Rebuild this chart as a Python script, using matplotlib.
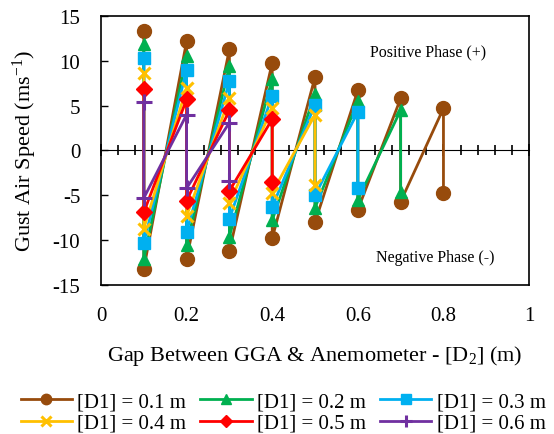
import matplotlib
matplotlib.use("Agg")
import matplotlib.pyplot as plt
from matplotlib.ticker import MultipleLocator, NullFormatter

plt.rcParams["font.family"] = ["Liberation Serif", "DejaVu Serif"]
plt.rcParams["mathtext.fontset"] = "custom"
plt.rcParams["mathtext.rm"] = "Liberation Serif"
plt.rcParams["mathtext.it"] = "Liberation Serif:italic"

# gap D2 positions (m)
gaps = [0.1, 0.2, 0.3, 0.4, 0.5, 0.6, 0.7, 0.8]

# positive / negative phase peaks per D1 (ms-1)
pos_d1_01 = [13.3, 12.2, 11.3, 9.8, 8.2, 6.7, 5.8, 4.7]
neg_d1_01 = [-13.2, -12.1, -11.2, -9.8, -8.0, -6.6, -5.7, -4.7]
pos_d1_02 = [11.9, 10.5, 9.4, 8.0, 6.3, 5.5, 4.5]
neg_d1_02 = [-12.1, -10.5, -9.6, -7.8, -6.4, -5.5, -4.6]
pos_d1_03 = [10.3, 9.0, 7.7, 6.1, 5.1, 4.3]
neg_d1_03 = [-10.3, -9.05, -7.6, -6.3, -5.0, -4.2]
pos_d1_04 = [8.6, 7.0, 5.8, 4.7, 4.0]
neg_d1_04 = [-8.7, -7.3, -5.85, -4.7, -3.85]
pos_d1_05 = [6.9, 5.7, 4.5, 3.5]
neg_d1_05 = [-6.9, -5.6, -4.5, -3.5]
pos_d1_06 = [5.4, 4.0, 3.1]
neg_d1_06 = [-5.3, -4.2, -3.4]

labels = ["[D1] = 0.1 m", "[D1] = 0.2 m", "[D1] = 0.3 m",
          "[D1] = 0.4 m", "[D1] = 0.5 m", "[D1] = 0.6 m"]
colors = ["#974B0C", "#00B050", "#00B0F0", "#FFC000", "#FF0000", "#7030A0"]
markers = ["o", "^", "s", "x", "D", "+"]
msizes = [10, 9, 9, 9, 8, 12]

series = [(pos_d1_01, neg_d1_01), (pos_d1_02, neg_d1_02), (pos_d1_03, neg_d1_03),
          (pos_d1_04, neg_d1_04), (pos_d1_05, neg_d1_05), (pos_d1_06, neg_d1_06)]

fig = plt.figure(figsize=(5.54, 4.35), dpi=100)
ax = fig.add_axes([0.1823, 0.3425, 0.7727, 0.6185])

handles = []
for i, (pos, neg) in enumerate(series):
    xs, ys = [], []
    for x, p, n in zip(gaps, pos, neg):
        xs += [x, x]
        ys += [p, n]
    mew = 2.2 if markers[i] in ("x", "+") else 1
    h, = ax.plot(xs, ys, color=colors[i], lw=2.0, marker=markers[i],
                 ms=msizes[i], mew=mew, label=labels[i], zorder=3 + i)
    handles.append(h)

ax.set_xlim(0, 1)
ax.set_ylim(-15, 15)
ax.set_xticks([0, 0.2, 0.4, 0.6, 0.8, 1.0])
ax.set_xticklabels(["0", "0.2", "0.4", "0.6", "0.8", "1"])
ax.set_yticks([-15, -10, -5, 0, 5, 10, 15])
ax.set_yticklabels(["-15", "-10", "-5", "0", "5", "10", "15"])
ax.tick_params(axis="y", direction="in", length=5, width=1, labelsize=15, pad=15)
ax.tick_params(axis="x", length=0, labelsize=15, pad=15)
for s in ax.spines.values():
    s.set_linewidth(1.2)

# horizontal axis line crossing at zero
zero_ax = ax.secondary_xaxis(0.5)
zero_ax.xaxis.set_major_locator(MultipleLocator(0.2))
zero_ax.xaxis.set_minor_locator(MultipleLocator(0.04))
zero_ax.xaxis.set_major_formatter(NullFormatter())
zero_ax.tick_params(which="major", direction="inout", length=9, width=1.2,
                    labelbottom=False, labeltop=False)
zero_ax.tick_params(which="minor", direction="inout", length=6.5, width=1.2)
zero_ax.spines["bottom"].set_linewidth(1.5)

ax.text(0.765, 11.1, "Positive Phase (+)", ha="center", va="center", fontsize=11.5)
ax.text(0.78, -11.9, "Negative Phase (-)", ha="center", va="center", fontsize=11.5)

ax.set_ylabel("Gust Air Speed (ms$^{-1}$)", fontsize=16, labelpad=10)
ax.set_xlabel("Gap Between GGA & Anemometer - [D$_2$] (m)", fontsize=16, labelpad=13)

order = [0, 3, 1, 4, 2, 5]
fig.legend([handles[k] for k in order], [labels[k] for k in order],
           loc="center", bbox_to_anchor=(0.511, 0.05), ncol=3, frameon=False,
           fontsize=15, handlelength=2.45, handletextpad=0.25, columnspacing=0.7,
           labelspacing=0.1, markerscale=0.75)

fig.savefig("out.png", dpi=100)
